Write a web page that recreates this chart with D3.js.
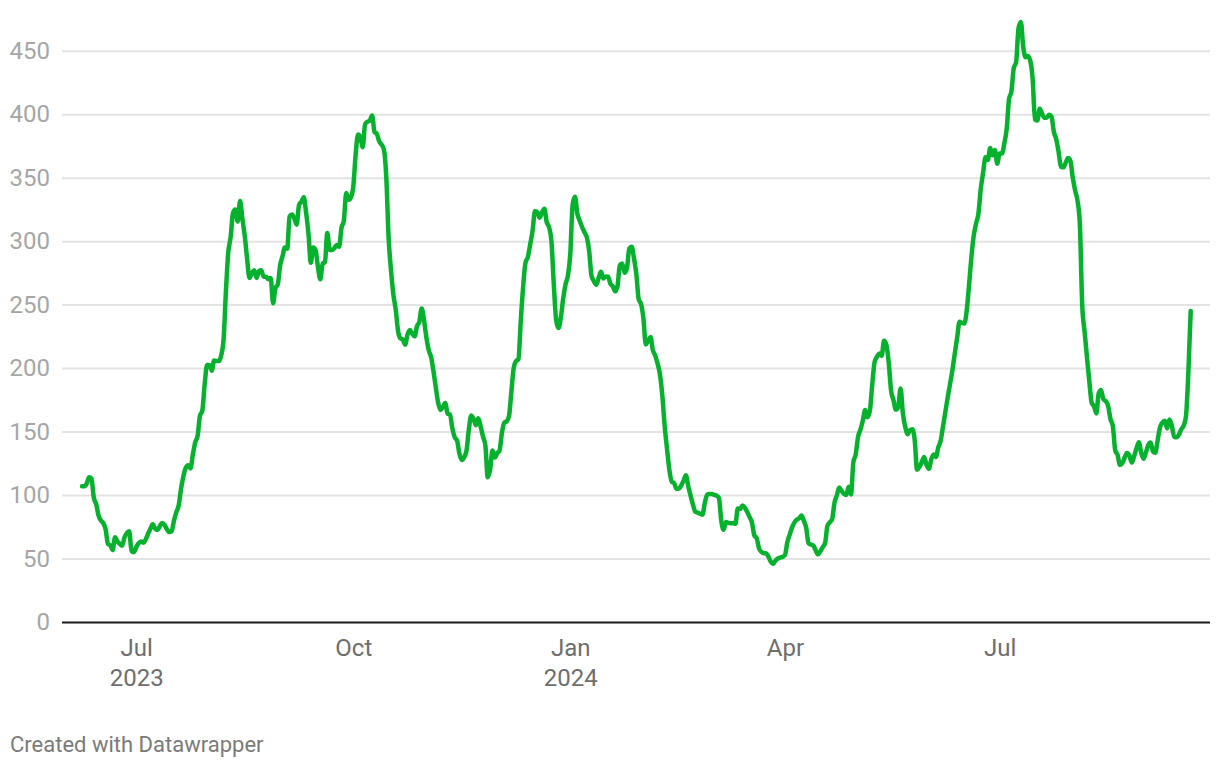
<!DOCTYPE html>
<html>
<head>
<meta charset="utf-8">
<script src="https://cdn.jsdelivr.net/npm/d3@7"></script>
<style>
  html, body { margin: 0; padding: 0; background: #ffffff; }
  svg { display: block; font-family: Roboto, "Noto Sans", sans-serif; }
</style>
</head>
<body>
<svg id="chart" width="1220" height="768"></svg>
<script>
// ---- data (daily values, first day below) ----
const startDate = "2023-06-08";
const values = [
107,107,109,114,113,98,93,84,80,78,73,61.5,60.5,56.7,66.7,63.5,61.5,60,66.5,70,
71.5,56,55,59,62,63.5,62.5,65,69.5,73.5,77,73.5,72.5,75.5,78,76.5,73,70.8,71.5,80,
86.5,92,105,115,121.5,123.5,121,132,141.5,146.5,162.5,166.5,187,202.5,202.5,198,206,205.5,205.5,210,
222,260,291,303,322,325,315.5,331.7,317.5,304,286,271,275,277,271,276.5,277,272,272,270,
271,251,263,266,281,288,295,294,319.5,321,318,313,328.5,331,334.5,322.5,306,283,295,293,
280,270,282,283.7,306.5,293,293,294.5,297,295.5,310.5,316,338,332.5,334.5,343,368,384,382,374,
392,394,395,399,386,384.5,378.5,376,372,350,302,277,258,246,229,223.4,222.5,218.5,226.5,230,
227,225,233,236.5,247,237.5,224,214,208.5,197.5,184.5,172.5,167,169.5,172.5,164,163.5,152.5,145.5,143,
132.5,127.6,129.8,135,151.8,162.7,159.8,155,160.4,154,146,139,114,120,135,129.5,133,135,149,157,
158,162,181,200,205.5,207,237,264,283,287.5,297.5,308,323.5,323,318.5,322.5,325.5,315,311,300,
266,238,231.5,240,255,266,273,290,329,334.9,321.5,316,311,307,303,292,272.5,268.5,265.5,271,
275.8,270.6,272.2,272,266.5,264.5,260.5,264.5,281,282.4,275,278.5,294,295.5,286.5,274,254,250.5,239,218.5,
221.5,224.5,214,210,203.5,195,178.5,154.5,136.5,119.7,110.5,109.4,105,105,107.5,111.3,115.5,107,99.5,92.5,
86.8,86.1,85.3,84.5,93.5,100.3,100.8,100.8,100.1,99.5,97.6,79.8,72.6,78.8,78.1,77.8,77.9,77.3,89.5,89,
91.8,90,86.7,82.6,78.5,68.3,66,58,55.3,54.1,54.1,51.4,47.5,45.7,48.5,50,50.8,51.3,52.7,62.8,
68.8,74.5,78.3,80.6,81.6,83.9,79.7,74.2,62,61,60.2,56.5,53.3,55.7,59,62,75.7,78.5,81,94,
99.7,106,103.3,100.9,100,106.5,100.5,126,132,146,151.5,158.5,167,161.3,166.5,187,204.8,208.9,211.5,209.7,
221.5,218.3,204,182,174.8,167.3,169.2,184,164.3,153.6,147.9,151,151.8,143.3,120,122,126,130,123.7,120.6,
128,132,130,137.5,142.7,154.1,165.5,177,187.6,198.6,211.6,224,236.5,235.6,235.1,244.6,264.6,286.8,304,313.8,
321.5,341,354,366,364,373.4,367.7,371.7,361,369,369,377,388.5,412,418,436.4,441,467.5,472.7,453,
444.8,445.8,442,427.6,395.8,395,404.3,400.4,397.2,397.4,399.5,398,386,380.3,370.4,358.5,358.1,361.8,365.5,363.3,
350,340,332,314,250,229,209,190,172.9,169.9,164.3,180.1,182.7,175.4,174,170,159.8,154.2,135.2,131.6,
123.7,125,129.6,133.2,131.2,125.6,130.5,136.6,141.6,133.4,128.6,133.4,139.4,141.4,134.4,133.4,143.3,153.3,157,158.6,
152.5,159.6,154.6,146,145.5,147.6,151.8,154.6,162,196.5,245
];
const yTicks = [0, 50, 100, 150, 200, 250, 300, 350, 400, 450];
const xTickDates = ["2023-07-01", "2023-10-01", "2024-01-01", "2024-04-01", "2024-07-01"];
const xTickMonths = ["Jul", "Oct", "Jan", "Apr", "Jul"];
const xTickYears = ["2023", "", "2024", "", ""];
const creditText = "Created with Datawrapper";

// ---- build ----
const parse = d3.utcParse("%Y-%m-%d");
const start = parse(startDate);
const data = values.map((v, i) => ({ date: d3.utcDay.offset(start, i), value: v }));

const svg = d3.select("#chart");
const plotLeft = 62, plotRight = 1210;

const x = d3.scaleUtc()
  .domain([data[0].date, data[data.length - 1].date])
  .range([82, 1190.7]);
const y = d3.scaleLinear().domain([0, 450]).range([622, 50.7]);

// y axis + gridlines
const yAxis = d3.axisLeft(y)
  .tickValues(yTicks)
  .tickSize(-(plotRight - plotLeft))
  .tickPadding(12)
  .tickFormat(d3.format("d"));
const gy = svg.append("g")
  .attr("transform", `translate(${plotLeft},0)`)
  .call(yAxis);
gy.select(".domain").remove();
gy.selectAll(".tick line")
  .attr("stroke", "#e3e3e3")
  .attr("stroke-width", 2);
gy.selectAll(".tick text")
  .attr("fill", "#a6a6a6")
  .attr("font-size", 24)
  .attr("font-family", "Roboto, sans-serif");
gy.selectAll(".tick").filter(d => d === 0).select("line")
  .attr("stroke", "#1a1a1a");

// x axis
const xAxis = d3.axisBottom(x)
  .tickValues(xTickDates.map(parse))
  .tickSize(0)
  .tickPadding(17)
  .tickFormat((d, i) => xTickMonths[i]);
const gx = svg.append("g")
  .attr("transform", "translate(0,622)")
  .call(xAxis);
gx.select(".domain").remove();
gx.selectAll(".tick text")
  .attr("fill", "#6e6e6e")
  .attr("font-size", 24)
  .attr("font-family", "Roboto, sans-serif")
  .each(function (d, i) {
    if (xTickYears[i]) {
      d3.select(this).append("tspan")
        .attr("x", 0)
        .attr("dy", "1.25em")
        .text(xTickYears[i]);
    }
  });

// line
const line = d3.line()
  .x(d => x(d.date))
  .y(d => y(d.value))
  .curve(d3.curveMonotoneX);
svg.append("path")
  .datum(data)
  .attr("fill", "none")
  .attr("stroke", "#05b12d")
  .attr("stroke-width", 4.5)
  .attr("stroke-linejoin", "round")
  .attr("stroke-linecap", "round")
  .attr("d", line);

// credit
svg.append("text")
  .attr("x", 10)
  .attr("y", 752)
  .attr("fill", "#7a7a7a")
  .attr("font-size", 22)
  .attr("font-family", "Roboto, sans-serif")
  .text(creditText);
</script>
</body>
</html>
